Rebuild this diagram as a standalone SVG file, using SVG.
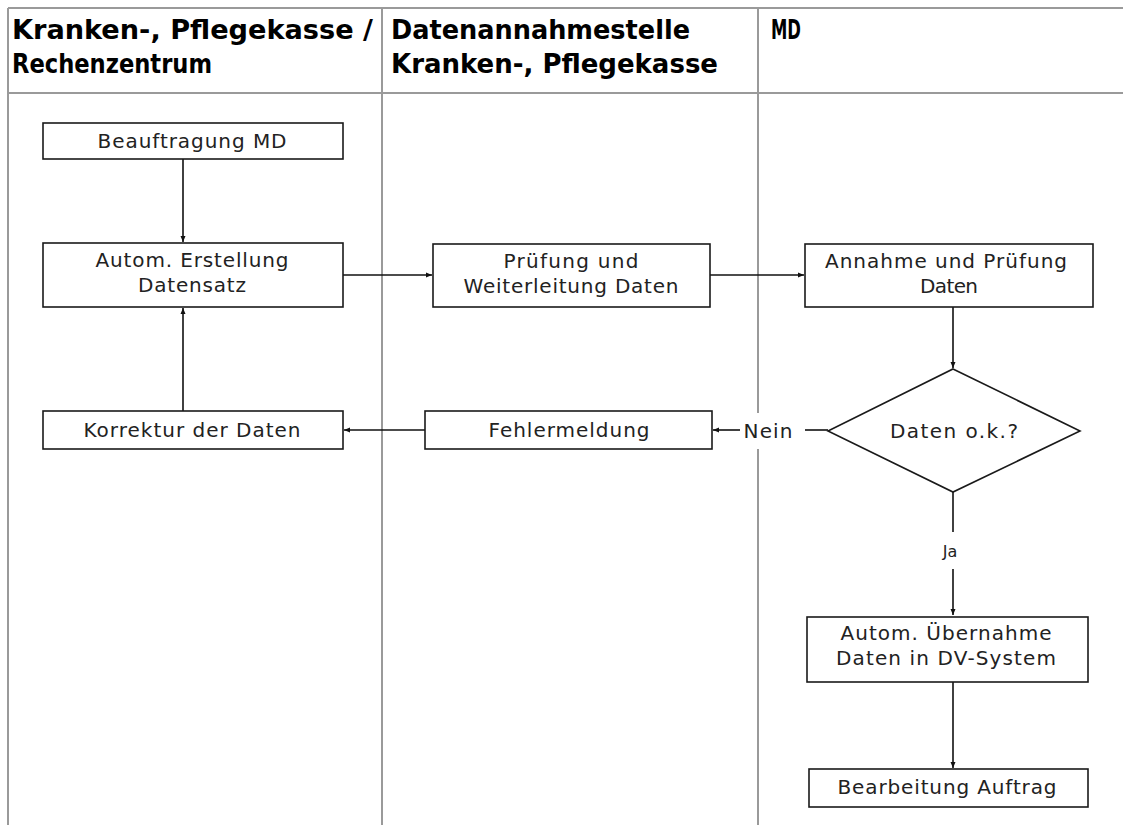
<svg xmlns="http://www.w3.org/2000/svg" width="1123" height="825" viewBox="0 0 1123 825">
<style>
.lane{stroke:#9a9a9a;stroke-width:2;fill:none}
.hdr{font-family:"Liberation Sans Narrow","DejaVu Sans Condensed","Liberation Sans",sans-serif;font-weight:bold;font-size:27px;fill:#000}
.box{fill:#fff;stroke:#1a1a1a;stroke-width:1.6}
.t{font-family:"DejaVu Sans","Noto Sans",sans-serif;font-size:20px;fill:#222;text-anchor:middle}
.c{stroke:#111;stroke-width:1.6;fill:none}
</style>
<defs>
<marker id="ah" markerUnits="userSpaceOnUse" markerWidth="7" markerHeight="6" refX="6" refY="3" orient="auto">
<path d="M0,0.5 L6,3 L0,5.5 z" fill="#111"/>
</marker>
</defs>
<rect width="1123" height="825" fill="#fff"/>
<g id="lanes">
<line class="lane" x1="8" y1="8" x2="1123" y2="8"/>
<line class="lane" x1="8" y1="93" x2="1123" y2="93"/>
<line class="lane" x1="8" y1="8" x2="8" y2="825"/>
<line class="lane" x1="382" y1="8" x2="382" y2="825"/>
<line class="lane" x1="758" y1="8" x2="758" y2="825"/>
<text class="hdr" x="12" y="39" textLength="361" lengthAdjust="spacingAndGlyphs">Kranken-, Pflegekasse /</text>
<text class="hdr" x="12" y="73" textLength="200" lengthAdjust="spacingAndGlyphs">Rechenzentrum</text>
<text class="hdr" x="391" y="39" textLength="299" lengthAdjust="spacingAndGlyphs">Datenannahmestelle</text>
<text class="hdr" x="391" y="73" textLength="327" lengthAdjust="spacingAndGlyphs">Kranken-, Pflegekasse</text>
<text class="hdr" x="771" y="39" textLength="30" lengthAdjust="spacingAndGlyphs">MD</text>
</g>
<g id="connectors">
<line class="c" x1="183" y1="159" x2="183" y2="242" marker-end="url(#ah)"/>
<line class="c" x1="183" y1="411" x2="183" y2="308" marker-end="url(#ah)"/>
<line class="c" x1="343" y1="275" x2="432" y2="275" marker-end="url(#ah)"/>
<line class="c" x1="710" y1="275" x2="804" y2="275" marker-end="url(#ah)"/>
<line class="c" x1="953" y1="307" x2="953" y2="368" marker-end="url(#ah)"/>
<line class="c" x1="425" y1="430" x2="344" y2="430" marker-end="url(#ah)"/>
<line class="c" x1="828" y1="430" x2="805" y2="430"/>
<line class="c" x1="740" y1="430" x2="713" y2="430" marker-end="url(#ah)"/>
<rect x="745" y="413" width="50" height="36" fill="#fff"/>
<text class="t" x="768" y="438" textLength="49">Nein</text>
<line class="c" x1="953" y1="492" x2="953" y2="532"/>
<text class="t" x="950" y="557" style="font-size:16px">Ja</text>
<line class="c" x1="953" y1="569" x2="953" y2="615" marker-end="url(#ah)"/>
<line class="c" x1="953" y1="682" x2="953" y2="768" marker-end="url(#ah)"/>
</g>
<g id="n1">
<rect class="box" x="43" y="123" width="300" height="36"/>
<text class="t" x="192" y="148" textLength="189">Beauftragung MD</text>
</g>
<g id="n2">
<rect class="box" x="43" y="243" width="300" height="64"/>
<text class="t" x="192" y="267" textLength="193">Autom. Erstellung</text>
<text class="t" x="192" y="292" textLength="108">Datensatz</text>
</g>
<g id="n3">
<rect class="box" x="43" y="411" width="300" height="38"/>
<text class="t" x="192" y="437" textLength="217">Korrektur der Daten</text>
</g>
<g id="n4">
<rect class="box" x="433" y="244" width="277" height="63"/>
<text class="t" x="571" y="268" textLength="135">Prüfung und</text>
<text class="t" x="571" y="293" textLength="215">Weiterleitung Daten</text>
</g>
<g id="n5">
<rect class="box" x="425" y="411" width="287" height="38"/>
<text class="t" x="569" y="437" textLength="161">Fehlermeldung</text>
</g>
<g id="n6">
<rect class="box" x="805" y="244" width="288" height="63"/>
<text class="t" x="946" y="268" textLength="242">Annahme und Prüfung</text>
<text class="t" x="949" y="293" textLength="58">Daten</text>
</g>
<g id="n7">
<polygon class="box" points="953,369 1080,431 953,492 828,431"/>
<text class="t" x="954" y="438" textLength="128">Daten o.k.?</text>
</g>
<g id="n8">
<rect class="box" x="807" y="617" width="281" height="65"/>
<text class="t" x="946" y="640" textLength="211">Autom. Übernahme</text>
<text class="t" x="946" y="665" textLength="220">Daten in DV-System</text>
</g>
<g id="n9">
<rect class="box" x="809" y="769" width="279" height="38"/>
<text class="t" x="947" y="794" textLength="219">Bearbeitung Auftrag</text>
</g>
</svg>
